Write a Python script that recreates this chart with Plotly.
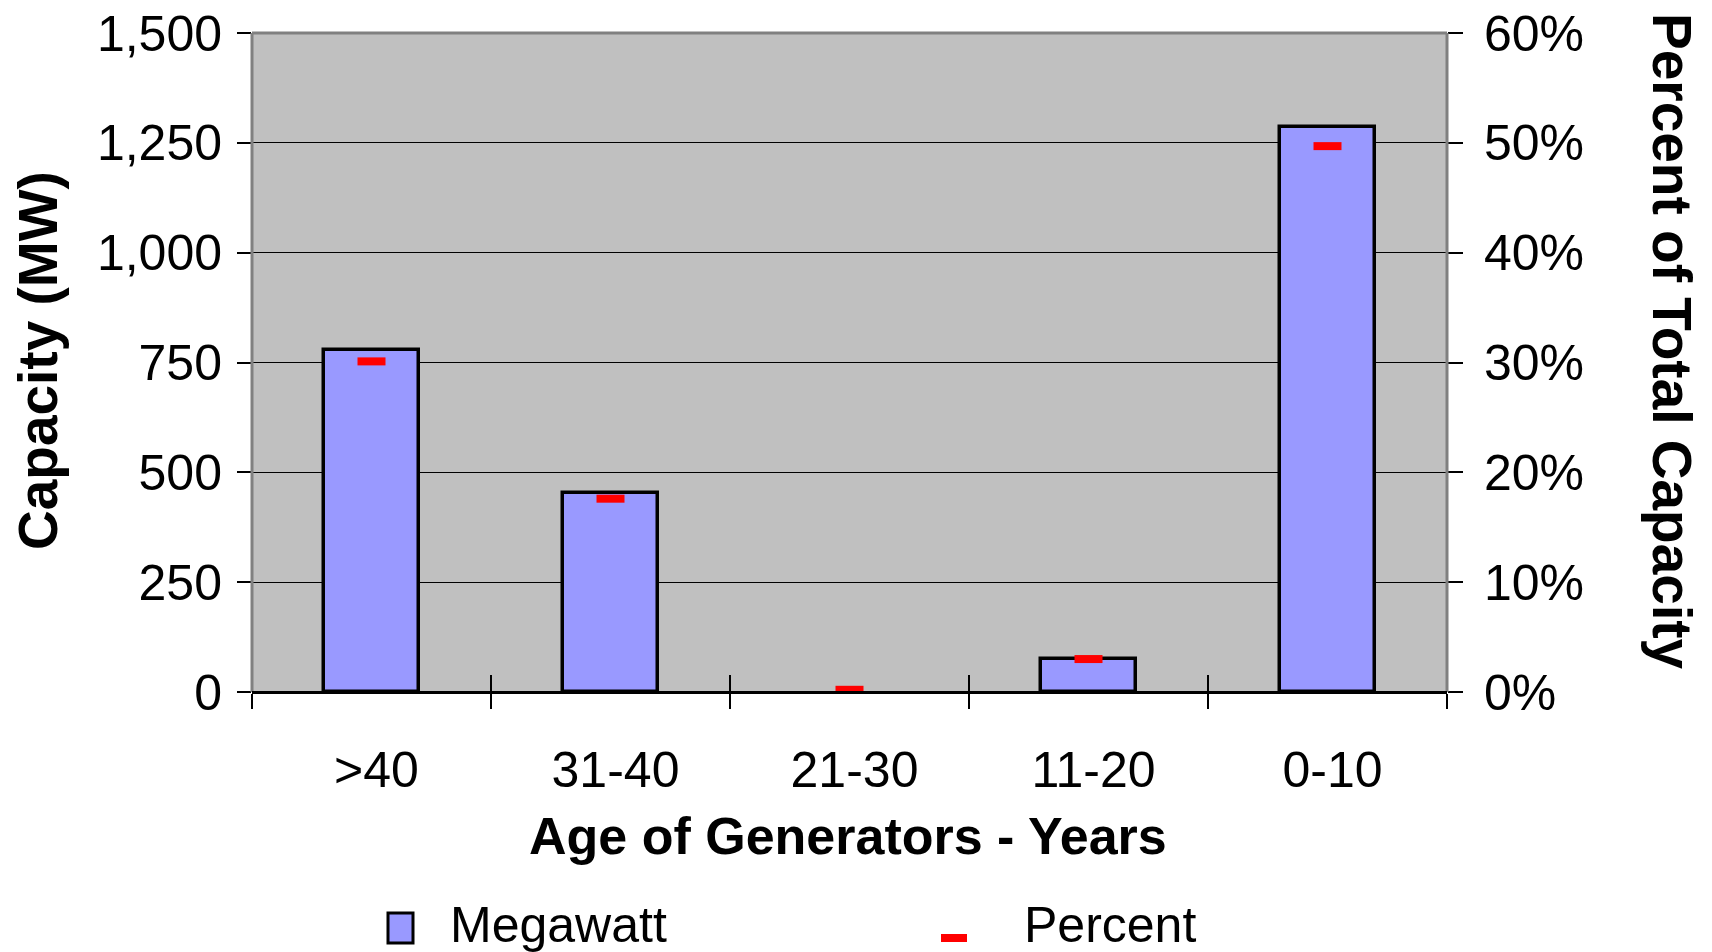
import plotly.graph_objects as go

categories = [">40", "31-40", "21-30", "11-20", "0-10"]
megawatt = [778, 453, 0, 75, 1286]
percent = [30.1, 17.6, 0.2, 3.0, 49.7]
y_ticks = [0, 250, 500, 750, 1000, 1250, 1500]
y_ticktext = ["0", "250", "500", "750", "1,000", "1,250", "1,500"]
y2_ticks = [0, 10, 20, 30, 40, 50, 60]
y2_ticktext = ["0%", "10%", "20%", "30%", "40%", "50%", "60%"]

W, H = 1712, 952
L, R, T, B = 252, 1447, 33, 692  # plot area in pixels


def px(x):
    return (x - L) / (R - L)


def py(y):
    return (B - y) / (B - T)


FONT = "Liberation Sans, Arial, sans-serif"
n = len(categories)

fig = go.Figure()
fig.add_trace(go.Bar(
    x=categories, y=megawatt, name="Megawatt", width=0.40,
    marker=dict(color="#9999FF",
                line=dict(color="black",
                          width=[3.5 if v else 0 for v in megawatt])),
    showlegend=False,
))
fig.add_trace(go.Scatter(
    x=categories, y=percent, name="Percent", yaxis="y2", mode="markers",
    marker=dict(symbol="line-ew", size=20, line=dict(color="#FF0000", width=8)),
    showlegend=False, cliponaxis=False,
))
# helper (draws nothing) so the overlay axis with inside tick marks is rendered
fig.add_trace(go.Scatter(
    x=categories, y=megawatt, xaxis="x2", mode="none", hoverinfo="skip",
    showlegend=False,
))

fig.update_layout(
    template="none",
    width=W, height=H, autosize=False,
    margin=dict(l=L, r=W - R, t=T, b=H - B, pad=0),
    paper_bgcolor="white", plot_bgcolor="#C0C0C0",
    font=dict(family=FONT, size=50, color="black"),
    bargap=0,
    xaxis=dict(
        type="category", tickson="boundaries", ticks="outside", ticklen=15,
        tickwidth=1.5, tickcolor="black", showgrid=False, showline=True,
        linecolor="black", linewidth=2, ticklabelstandoff=33,
        ticklabelshift=5, range=[-0.5, n - 0.5],
        tickfont=dict(size=50), automargin=False, zeroline=False,
    ),
    xaxis2=dict(
        type="category", overlaying="x", anchor="y", side="bottom",
        range=[-0.5, n - 0.5],
        tickson="boundaries", ticks="inside", ticklen=17, tickwidth=1.5,
        tickcolor="black", showticklabels=False, showgrid=False,
        zeroline=False, showline=False, automargin=False,
    ),
    yaxis=dict(
        range=[0, 1500], tickvals=y_ticks, ticktext=y_ticktext,
        ticks="outside", ticklen=14, tickcolor="black", tickwidth=1.5,
        showgrid=True, gridcolor="#000000", gridwidth=1, zeroline=False,
        showline=False, ticklabelstandoff=5, tickfont=dict(size=50),
        automargin=False,
    ),
    yaxis2=dict(
        range=[0, 60], tickvals=y2_ticks, ticktext=y2_ticktext,
        overlaying="y", side="right", ticks="outside", ticklen=15,
        tickcolor="black", tickwidth=1.5, showgrid=False, zeroline=False,
        showline=False, ticklabelstandoff=11, tickfont=dict(size=50),
        automargin=False,
    ),
    shapes=[
        dict(type="line", xref="paper", yref="paper", x0=0, x1=0, y0=0, y1=1,
             line=dict(color="#808080", width=3)),
        dict(type="line", xref="paper", yref="paper", x0=0, x1=1, y0=1, y1=1,
             line=dict(color="#808080", width=3)),
        dict(type="line", xref="paper", yref="paper", x0=1, x1=1, y0=0, y1=1,
             line=dict(color="#808080", width=3)),
        dict(type="line", xref="paper", yref="paper", x0=0, x1=1, y0=0, y1=0,
             line=dict(color="black", width=2)),
        # legend symbols
        dict(type="rect", xref="paper", yref="paper", x0=px(388), x1=px(413),
             y0=py(943), y1=py(913), fillcolor="#9999FF",
             line=dict(color="black", width=3)),
        dict(type="rect", xref="paper", yref="paper", x0=px(941), x1=px(967),
             y0=py(942), y1=py(934), fillcolor="#FF0000", line=dict(width=0)),
    ],
    annotations=[
        dict(text="<b>Capacity (MW)</b>", xref="paper", yref="paper",
             x=px(38), y=py(360), textangle=-90, showarrow=False,
             xanchor="center", yanchor="middle", font=dict(size=55)),
        dict(text="<b>Percent of Total Capacity</b>", xref="paper", yref="paper",
             x=px(1672), y=py(341), textangle=90, showarrow=False,
             xanchor="center", yanchor="middle", font=dict(size=55)),
        dict(text="<b>Age of Generators - Years</b>", xref="paper", yref="paper",
             x=px(848), y=py(836), showarrow=False,
             xanchor="center", yanchor="middle", font=dict(size=52)),
        dict(text="Megawatt", xref="paper", yref="paper",
             x=px(448), y=py(925), showarrow=False,
             xanchor="left", yanchor="middle", font=dict(size=50)),
        dict(text="Percent", xref="paper", yref="paper",
             x=px(1022), y=py(925), showarrow=False,
             xanchor="left", yanchor="middle", font=dict(size=50)),
    ],
)

fig.write_html(
    "out.html",
    config={"displayModeBar": False},
    post_script="document.body.style.margin='0';document.body.style.overflow='hidden';",
)
